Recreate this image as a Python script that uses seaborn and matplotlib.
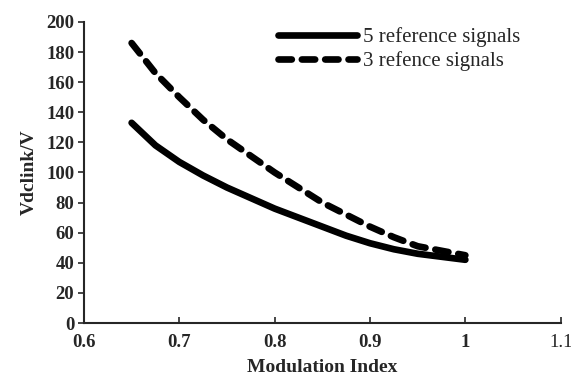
import matplotlib
matplotlib.use("Agg")
import matplotlib.pyplot as plt
import seaborn as sns
import pandas as pd

mod_index = [0.65, 0.675, 0.70, 0.725, 0.75, 0.775, 0.80, 0.825, 0.85, 0.875, 0.90, 0.925, 0.95, 0.975, 1.00]
five_ref = [133, 118, 107, 98, 90, 83, 76, 70, 64, 58, 53, 49, 46, 44, 42]
three_ref = [186, 166, 150, 135, 122, 111, 100, 90, 80, 72, 64, 57, 51, 48, 45]
series_names = ["5 reference signals", "3 refence signals"]

df = pd.DataFrame({
    "m": mod_index * 2,
    "v": five_ref + three_ref,
    "s": [series_names[0]] * len(mod_index) + [series_names[1]] * len(mod_index),
})

sns.set_style("ticks")
plt.rcParams["font.family"] = ["Liberation Serif", "DejaVu Serif"]

fig = plt.figure(figsize=(5.71, 3.85), dpi=100)
ax = fig.add_axes([0.147, 0.161, 0.835, 0.782])

sns.lineplot(data=df, x="m", y="v", hue="s", style="s",
             palette=["black", "black"],
             dashes={series_names[0]: "", series_names[1]: (2.0, 1.5)},
             linewidth=4.8, ax=ax, legend=True,
             solid_capstyle="round", dash_capstyle="round")

ax.set_xlim(0.6, 1.1)
ax.set_ylim(0, 200)
ax.set_xticks([0.6, 0.7, 0.8, 0.9, 1.0, 1.1])
ax.set_xticklabels(["0.6", "0.7", "0.8", "0.9", "1", "1.1"])
ax.set_yticks(range(0, 201, 20))
for lab in ax.get_xticklabels() + ax.get_yticklabels():
    lab.set_fontweight("bold")
    lab.set_fontsize(13.5)
ax.get_xticklabels()[-1].set_fontweight("normal")
ax.tick_params(axis="x", direction="in", length=4, width=1.2, pad=8)
ax.tick_params(axis="y", direction="out", length=4, width=1.2, pad=3)
for sp in ["top", "right"]:
    ax.spines[sp].set_visible(False)
for sp in ["left", "bottom"]:
    ax.spines[sp].set_linewidth(1.5)

ax.set_xlabel("Modulation Index", fontsize=14, fontweight="bold", labelpad=6)
ax.set_ylabel("Vdclink/V", fontsize=14, fontweight="bold", labelpad=6)

leg = ax.legend(loc="upper right", bbox_to_anchor=(0.955, 1.045), frameon=False,
                fontsize=15, handlelength=3.8, handletextpad=0.3,
                labelspacing=0.2)
for line in leg.get_lines():
    line.set_linewidth(4.8)
    line.set_solid_capstyle("round")
    line.set_dash_capstyle("round")

fig.savefig("out.png", dpi=100)
